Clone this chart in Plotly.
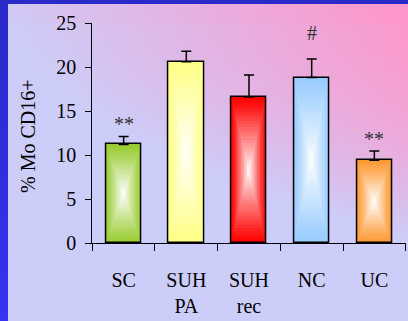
import base64, struct, zlib
import plotly.graph_objects as go

# ---- data ----
categories = ["SC", "SUH<br>PA", "SUH<br>rec", "NC", "UC"]
values = [11.2, 20.6, 16.6, 18.8, 9.4]
errors = [0.9, 1.2, 2.5, 2.1, 1.05]
sig_labels = ["**", "", "", "#", "**"]
sig_offset = [1.4, 0, 0, 3.0, 1.4]
bar_colors = ["#99cc33", "#ffff88", "#ff0000", "#99ccff", "#ff9933"]
y_ticks = [0, 5, 10, 15, 20, 25]

W, H = 408, 321
FONT = "Liberation Serif"


def hex2rgb(h):
    h = h.lstrip("#")
    return tuple(int(h[i:i + 2], 16) for i in (0, 2, 4))


def mix(c1, c2, t):
    return tuple(round(a + (b - a) * t) for a, b in zip(c1, c2))


# ---- background gradient image ----
LAV = (204, 205, 249)
PINK = (252, 152, 203)
BLUE_T = (42, 42, 200)
BLUE_B = (52, 52, 242)


def bg_pixel(x, y):
    if x < 8:
        return mix(BLUE_T, BLUE_B, y / H)
    if y < 4:
        return BLUE_T
    u, v = x / W, y / H
    p = u - (v / 0.75) ** 2
    if y < 23:
        p += 0.06
    p = max(0.0, min(1.0, p))
    return mix(LAV, PINK, p)


rows = []
for yy in range(H):
    row = bytearray([0])
    for xx in range(W):
        row.extend(bg_pixel(xx, yy))
    rows.append(bytes(row))
raw = b"".join(rows)


def chunk(tag, data):
    return struct.pack(">I", len(data)) + tag + data + struct.pack(">I", zlib.crc32(tag + data) & 0xffffffff)


png = b"\x89PNG\r\n\x1a\n" + chunk(b"IHDR", struct.pack(">IIBBBBB", W, H, 8, 2, 0, 0, 0)) \
    + chunk(b"IDAT", zlib.compress(raw, 9)) + chunk(b"IEND", b"")
bg_uri = "data:image/png;base64," + base64.b64encode(png).decode()

fig = go.Figure()

# ---- gradient bars (concentric rectangles toward centre) ----
BW = 0.56
N = 24
white = (255, 255, 255)
for k in range(N):
    s = 1 - k / N
    t = k / N
    cols = ["rgb(%d,%d,%d)" % mix(hex2rgb(c), white, t ** 1.1) for c in bar_colors]
    fig.add_trace(go.Bar(
        x=categories, y=[v * s for v in values], base=[v * (1 - s) / 2 for v in values],
        width=[BW * s] * len(values), marker=dict(color=cols, line=dict(width=0)),
        hoverinfo="skip", showlegend=False))

# outline + error bars
fig.add_trace(go.Bar(
    x=categories, y=values, width=[BW] * len(values),
    marker=dict(color="rgba(0,0,0,0)", line=dict(color="black", width=1.5)),
    error_y=dict(type="data", array=errors, arrayminus=[0] * len(values), symmetric=False,
                 color="black", thickness=1.5, width=5),
    showlegend=False))

annotations = []
for c, v, e, lab, off in zip(categories, values, errors, sig_labels, sig_offset):
    if lab:
        annotations.append(dict(x=c, y=v + e + off, xref="x", yref="y", text=lab, showarrow=False,
                                font=dict(family=FONT, size=20, color="#333333"), yanchor="middle"))
annotations.append(dict(x=28 / W, y=(H - 136) / H, xref="paper", yref="paper", text="% Mo CD16+",
                        xanchor="center", yanchor="middle",
                        textangle=-90, showarrow=False, font=dict(family=FONT, size=20, color="black")))

fig.update_layout(
    width=W, height=H, margin=dict(l=0, r=0, t=0, b=0, autoexpand=False),
    paper_bgcolor="rgb(204,205,249)", plot_bgcolor="rgba(0,0,0,0)",
    barmode="overlay", bargap=0, showlegend=False,
    images=[dict(source=bg_uri, xref="paper", yref="paper", x=0, y=1, sizex=1, sizey=1,
                 xanchor="left", yanchor="top", sizing="stretch", layer="below")],
    annotations=annotations,
    xaxis=dict(domain=[92.3 / W, 405.7 / W], type="category", range=[-0.5, 4.5], automargin=False,
               showline=True, linecolor="black", linewidth=1.3, ticks="outside", tickson="boundaries",
               ticklen=7, tickwidth=1.3, tickcolor="black", showgrid=False, zeroline=False,
               tickfont=dict(family=FONT, size=20, color="black"), ticklabelstandoff=19),
    yaxis=dict(domain=[(H - 243) / H, (H - 23) / H], range=[0, 25], tickvals=y_ticks, automargin=False,
               showline=True, linecolor="black", linewidth=1.3, ticks="outside", ticklen=6,
               tickwidth=1.3, tickcolor="black", showgrid=False, zeroline=False,
               tickfont=dict(family=FONT, size=20, color="black"), ticklabelstandoff=5),
)

fig.write_html("out.html")
